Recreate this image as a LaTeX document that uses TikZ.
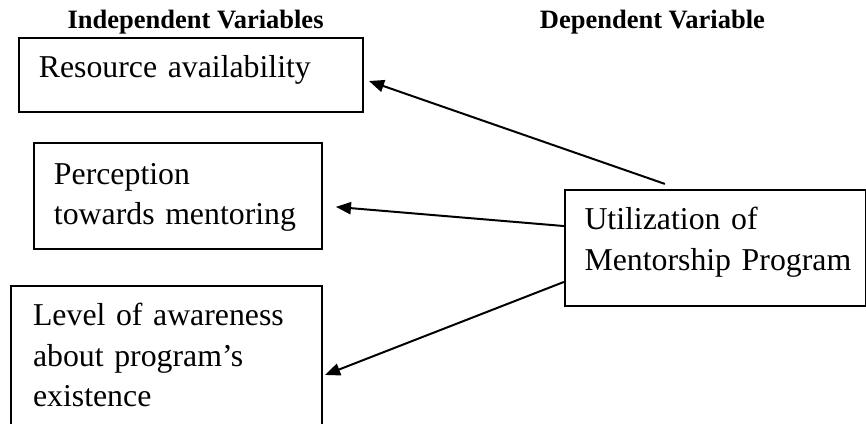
\documentclass[tikz,border=0pt]{standalone}
\usepackage{fontspec}
\setmainfont{Liberation Serif}
\usetikzlibrary{arrows.meta}

\begin{document}
\begin{tikzpicture}[
  box/.style={draw,line width=0.75pt,anchor=north west,align=left,inner ysep=0pt,
    font=\fontsize{12}{15.3}\selectfont},
  head/.style={anchor=base,font=\bfseries\fontsize{10}{12}\selectfont},
  arr/.style={line width=0.75pt,-{Triangle[length=5.7pt,width=4.6pt]}}]
  \useasboundingbox (0,0) rectangle (326.8pt,-160pt);
  % column titles
  \node[head] (indep) at (73.8pt,-10.9pt) {Independent Variables};
  \node[head] (dep) at (246.2pt,-10.9pt) {Dependent Variable};
  % independent variables
  \node[box,inner xsep=7.5pt,text width=114.8pt,text height=14.7pt,text depth=13.2pt]
    (res) at (6.8pt,-14pt) {Resource availability};
  \node[box,inner xsep=7.5pt,text width=93.7pt,text height=15.5pt,text depth=24.5pt]
    (per) at (12.5pt,-53.6pt) {Perception\\towards mentoring};
  \node[box,inner xsep=8.3pt,text width=100.8pt,text height=15.1pt,text depth=39.9pt]
    (aw) at (3.8pt,-107.5pt) {Level of awareness\\about program's\\existence};
  % dependent variable
  \node[box,inner xsep=7.4pt,text width=98.8pt,text height=15pt,text depth=28.8pt]
    (use) at (212.8pt,-71.3pt) {Utilization of\\\mbox{Mentorship Program}};
  \path[arr]
    ([shift={(38.1pt,1.9pt)}]use.north west) edge ([shift={(1.9pt,-2.25pt)}]res.east)
    ([shift={(0pt,-14pt)}]use.north west) edge ([shift={(4.8pt,-4.1pt)}]per.east)
    ([shift={(0pt,-35.1pt)}]use.north west) edge ([shift={(0.7pt,-34pt)}]aw.north east);
\end{tikzpicture}
\end{document}
